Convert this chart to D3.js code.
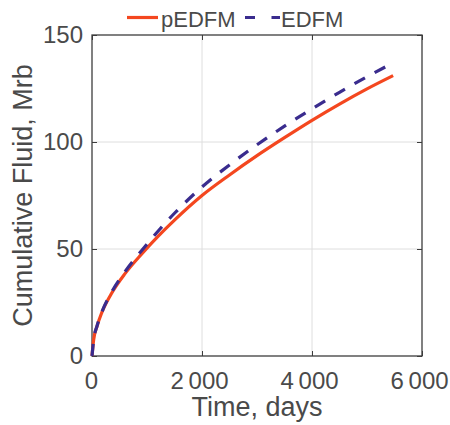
<!DOCTYPE html>
<html>
<head>
<meta charset="utf-8">
<script src="https://cdn.jsdelivr.net/npm/d3@7"></script>
<style>
  html, body { margin: 0; padding: 0; background: #fff; }
  svg { display: block; }
  text { font-family: "Liberation Sans", Arial, Helvetica, sans-serif; }
</style>
</head>
<body>
<div id="chart"></div>
<script>
// ---- data ----
const days      = [0, 30, 90, 180, 365, 600, 900, 1200, 1500, 2000, 2500, 3000, 3500, 4000, 4500, 5000, 5475];
const pEDFM     = [0, 7.6, 13.8, 20.4, 29.7, 38.5, 47.6, 55.9, 63.5, 75, 84.6, 93.6, 102, 110.1, 117.7, 124.8, 131];
const EDFM      = [0, 7.6, 13.9, 20.6, 30.2, 39.4, 49.2, 58.3, 66.7, 79, 89.3, 98.7, 107.4, 115.5, 123.2, 130.5, 137];
const seriesNames = ["pEDFM", "EDFM"];
const xTicks = [0, 2000, 4000, 6000];
const xTickLabels = ["0", "2\u2009000", "4\u2009000", "6\u2009000"];
const yTicks = [0, 50, 100, 150];
const yTickLabels = ["0", "50", "100", "150"];
const xLabel = "Time, days";
const yLabel = "Cumulative Fluid, Mrb";

// ---- layout ----
const W = 450, H = 425;
const mLeft = 92, mRight = 422, mTop = 35, mBottom = 356;
const textColor = "#4a4a4a";
const red = "#f4471f", blue = "#3a2c8e";

const svg = d3.select("#chart").append("svg").attr("width", W).attr("height", H);

const x = d3.scaleLinear().domain([0, 6000]).range([mLeft, mRight]);
const y = d3.scaleLinear().domain([0, 150]).range([mBottom, mTop]);

// grid
const grid = svg.append("g");
grid.selectAll(".gx").data(xTicks.slice(1, -1)).enter().append("line")
  .attr("x1", d => x(d)).attr("x2", d => x(d)).attr("y1", mTop).attr("y2", mBottom)
  .attr("stroke", "#dedede").attr("stroke-width", 1);
grid.selectAll(".gy").data(yTicks.slice(1, -1)).enter().append("line")
  .attr("y1", d => y(d)).attr("y2", d => y(d)).attr("x1", mLeft).attr("x2", mRight)
  .attr("stroke", "#dedede").attr("stroke-width", 1);

// axes
function styleAxis(g) {
  g.select(".domain").remove();
  g.selectAll(".tick line").attr("stroke", "#3d3d3d").attr("stroke-width", 1);
  g.selectAll(".tick text").attr("fill", textColor).attr("font-size", 24)
    .attr("font-family", "\"Liberation Sans\", Arial, Helvetica, sans-serif");
}
svg.append("g").attr("transform", `translate(0,${mBottom})`)
  .call(d3.axisBottom(x).tickValues(xTicks).tickFormat((d, i) => xTickLabels[i]).tickSizeInner(-5).tickSizeOuter(0).tickPadding(16))
  .call(styleAxis)
  .call(g => g.selectAll(".tick text").attr("dx", (d, i) => i === 0 ? -1 : -3));
svg.append("g").attr("transform", `translate(${mLeft},0)`)
  .call(d3.axisLeft(y).tickValues(yTicks).tickFormat((d, i) => yTickLabels[i]).tickSizeInner(-5).tickSizeOuter(0).tickPadding(9))
  .call(styleAxis);
svg.append("g").attr("transform", `translate(0,${mTop})`)
  .call(d3.axisTop(x).tickValues(xTicks).tickFormat("").tickSizeInner(-5).tickSizeOuter(0))
  .call(styleAxis);
svg.append("g").attr("transform", `translate(${mRight},0)`)
  .call(d3.axisRight(y).tickValues(yTicks).tickFormat("").tickSizeInner(-5).tickSizeOuter(0))
  .call(styleAxis);

// box
svg.append("rect").attr("x", mLeft).attr("y", mTop).attr("width", mRight - mLeft).attr("height", mBottom - mTop)
  .attr("fill", "none").attr("stroke", "#3d3d3d").attr("stroke-width", 1.3);

// lines
const line = d3.line().x((d, i) => x(days[i])).y(d => y(d)).curve(d3.curveMonotoneX);
svg.append("path").datum(pEDFM).attr("d", line)
  .attr("fill", "none").attr("stroke", red).attr("stroke-width", 3.2);
svg.append("path").datum(EDFM).attr("d", line)
  .attr("fill", "none").attr("stroke", blue).attr("stroke-width", 3.2)
  .attr("stroke-dasharray", "12,11");

// axis labels
svg.append("text").attr("x", (mLeft + mRight) / 2).attr("y", 416)
  .attr("text-anchor", "middle").attr("font-size", 27).attr("fill", textColor).text(xLabel);
svg.append("text").attr("transform", `translate(32,${(mTop + mBottom) / 2}) rotate(-90)`)
  .attr("text-anchor", "middle").attr("font-size", 27).attr("fill", textColor).text(yLabel);

// legend
const lg = svg.append("g");
lg.append("line").attr("x1", 127).attr("x2", 158).attr("y1", 17.5).attr("y2", 17.5)
  .attr("stroke", red).attr("stroke-width", 3.2);
lg.append("text").attr("x", 161).attr("y", 26.5).attr("font-size", 22).attr("fill", textColor).text(seriesNames[0]);
lg.append("line").attr("x1", 245).attr("x2", 280).attr("y1", 17.5).attr("y2", 17.5)
  .attr("stroke", blue).attr("stroke-width", 3.2).attr("stroke-dasharray", "10,16.5");
lg.append("text").attr("x", 281).attr("y", 26.5).attr("font-size", 22).attr("fill", textColor).text(seriesNames[1]);
</script>
</body>
</html>
